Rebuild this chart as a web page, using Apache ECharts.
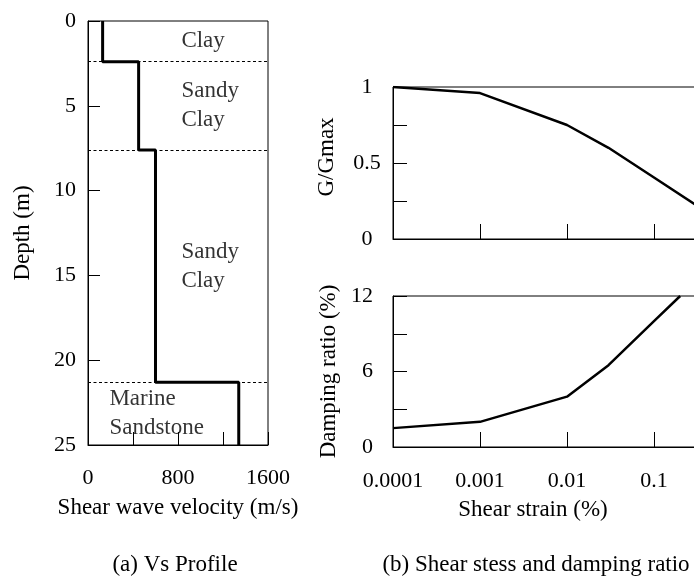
<!DOCTYPE html>
<html>
<head>
<meta charset="utf-8">
<script src="https://cdn.jsdelivr.net/npm/echarts@6/dist/echarts.min.js"></script>
<style>
  html, body { margin: 0; padding: 0; background: #fff; }
  #chart { width: 694px; height: 579px; }
</style>
</head>
<body>
<div id="chart"></div>
<script>
// Soil layers of the Vs profile
const layerNames = ['Clay', 'Sandy\nClay', 'Sandy\nClay', 'Marine\nSandstone'];
const layerTop = [0, 2.4, 7.6, 21.3];        // m
const layerBottom = [2.4, 7.6, 21.3, 25];    // m
const layerVs = [130, 450, 600, 1340];       // m/s

// Tick labels of the profile
const velocityTicks = [0, 800, 1600];
const depthTicks = [0, 5, 10, 15, 20, 25];

// Modulus reduction curve
const gStrain = [0.0001, 0.001, 0.01, 0.03, 0.1, 0.3];   // %
const gRatio = [1, 0.96, 0.75, 0.6, 0.405, 0.225];

// Damping curve
const dStrain = [0.0001, 0.001, 0.01, 0.03, 0.1, 0.2];   // %
const damping = [1.5, 2, 4, 6.5, 10, 12];                // %

const gTicks = [0, 0.5, 1];
const dTicks = [0, 6, 12];
const strainTicks = [0.0001, 0.001, 0.01, 0.1];

const FONT = "'Liberation Serif', 'Times New Roman', serif";
const INK = '#000';

// step polyline of Vs versus depth
const profile = [];
layerVs.forEach((v, i) => {
  profile.push([v, layerTop[i]]);
  profile.push([v, layerBottom[i]]);
});

// where each layer name is anchored (velocity column), centred on its layer
const nameColumn = [830, 830, 830, 190];
const layerLabels = layerNames.map((n, i) => ({
  name: n,
  value: [nameColumn[i], (layerTop[i] + layerBottom[i]) / 2]
}));

const labelStyle = { color: INK, fontFamily: FONT, fontSize: 22 };
const nameStyle = { color: INK, fontFamily: FONT, fontSize: 23 };
const axisLineStyle = { show: true, onZero: false, lineStyle: { color: INK, width: 1 } };

function fmtStrain(v) {
  const r = Number(v.toPrecision(1));
  return strainTicks.some(t => Math.abs(t - r) < t * 1e-6) ? String(r) : '';
}

const chart = echarts.init(document.getElementById('chart'), null, { renderer: 'canvas' });

// the strain axes run to 1 %, past the right edge of the canvas
const gridBase = { show: true, borderColor: INK, borderWidth: 1, containLabel: false, outerBoundsMode: 'none' };

chart.setOption({
  animation: false,
  backgroundColor: '#fff',
  grid: [
    Object.assign({ left: 88, top: 21, width: 180, height: 424 }, gridBase),
    Object.assign({ left: 393, top: 87, width: 348, height: 152 }, gridBase),
    Object.assign({ left: 393, top: 296, width: 348, height: 151 }, gridBase)
  ],
  xAxis: [
    {
      gridIndex: 0, type: 'value', min: 0, max: 1600, interval: 400, position: 'bottom',
      name: 'Shear wave velocity (m/s)', nameLocation: 'middle', nameGap: 51, nameTextStyle: nameStyle,
      axisLine: axisLineStyle,
      axisTick: { show: true, inside: true, length: 13, lineStyle: { color: INK } },
      axisLabel: Object.assign({ margin: 22, formatter: v => velocityTicks.includes(v) ? String(v) : '' }, labelStyle),
      splitLine: { show: false }
    },
    {
      gridIndex: 1, type: 'log', logBase: 10, min: 0.0001, max: 1, position: 'bottom',
      axisLine: axisLineStyle,
      axisTick: { show: true, inside: true, length: 15, lineStyle: { color: INK } },
      axisLabel: { show: false },
      minorTick: { show: false },
      splitLine: { show: false }
    },
    {
      gridIndex: 2, type: 'log', logBase: 10, min: 0.0001, max: 1, position: 'bottom',
      axisLine: axisLineStyle,
      axisTick: { show: true, inside: true, length: 15, lineStyle: { color: INK } },
      axisLabel: Object.assign({ margin: 23, formatter: fmtStrain }, labelStyle),
      minorTick: { show: false },
      splitLine: { show: false }
    }
  ],
  yAxis: [
    {
      gridIndex: 0, type: 'value', inverse: true, min: 0, max: 25, interval: 5, position: 'left',
      name: 'Depth (m)', nameLocation: 'middle', nameGap: 54, nameRotate: 90, nameTextStyle: nameStyle,
      axisLine: axisLineStyle,
      axisTick: { show: true, inside: true, length: 12, lineStyle: { color: INK } },
      axisLabel: Object.assign({ margin: 12, formatter: v => depthTicks.includes(v) ? String(v) : '' }, labelStyle),
      splitLine: { show: false }
    },
    {
      gridIndex: 1, type: 'value', min: 0, max: 1, interval: 0.25, position: 'left',
      name: 'G/Gmax', nameLocation: 'middle', nameGap: 55, nameRotate: 90,
      nameTextStyle: Object.assign({ padding: [0, 0, 0, 12] }, nameStyle),
      axisLine: axisLineStyle,
      axisTick: { show: true, inside: true, length: 14, lineStyle: { color: INK } },
      axisLabel: Object.assign({ margin: 26, align: 'center', formatter: v => gTicks.includes(v) ? String(v) : '' }, labelStyle),
      splitLine: { show: false }
    },
    {
      gridIndex: 2, type: 'value', min: 0, max: 12, interval: 3, position: 'left',
      name: 'Damping ratio (%)', nameLocation: 'middle', nameGap: 49, nameRotate: 90, nameTextStyle: nameStyle,
      axisLine: axisLineStyle,
      axisTick: { show: true, inside: true, length: 14, lineStyle: { color: INK } },
      axisLabel: Object.assign({ margin: 20, formatter: v => dTicks.includes(v) ? String(v) : '' }, labelStyle),
      splitLine: { show: false }
    }
  ],
  series: [
    {
      type: 'line', xAxisIndex: 0, yAxisIndex: 0,
      data: profile, showSymbol: false, symbol: 'none',
      lineStyle: { color: INK, width: 3 },
      silent: true,
      markLine: {
        silent: true, symbol: ['none', 'none'],
        label: { show: false },
        lineStyle: { color: INK, width: 1, type: [3, 2.5] },
        data: layerBottom.slice(0, layerBottom.length - 1).map(d => ({ yAxis: d }))
      }
    },
    {
      type: 'scatter', xAxisIndex: 0, yAxisIndex: 0,
      data: layerLabels, symbolSize: 0, silent: true,
      label: {
        show: true, position: 'right', distance: 0,
        formatter: p => p.name,
        color: INK, fontFamily: FONT, fontSize: 23, lineHeight: 29, align: 'left', verticalAlign: 'middle'
      }
    },
    {
      type: 'line', xAxisIndex: 1, yAxisIndex: 1,
      data: gStrain.map((s, i) => [s, gRatio[i]]),
      showSymbol: false, symbol: 'none', silent: true,
      lineStyle: { color: INK, width: 2.5 }
    },
    {
      type: 'line', xAxisIndex: 2, yAxisIndex: 2,
      data: dStrain.map((s, i) => [s, damping[i]]),
      showSymbol: false, symbol: 'none', silent: true,
      lineStyle: { color: INK, width: 2.5 }
    }
  ],
  graphic: [
    {
      type: 'text', x: 533, y: 510,
      style: { text: 'Shear strain (%)', fill: INK, font: "23px " + FONT, textAlign: 'center', textVerticalAlign: 'middle' }
    },
    {
      type: 'text', x: 175, y: 565,
      style: { text: '(a) Vs Profile', fill: INK, font: "23px " + FONT, textAlign: 'center', textVerticalAlign: 'middle' }
    },
    {
      type: 'text', x: 536, y: 565,
      style: { text: '(b) Shear stess and damping ratio', fill: INK, font: "23px " + FONT, textAlign: 'center', textVerticalAlign: 'middle' }
    }
  ]
});
</script>
</body>
</html>
